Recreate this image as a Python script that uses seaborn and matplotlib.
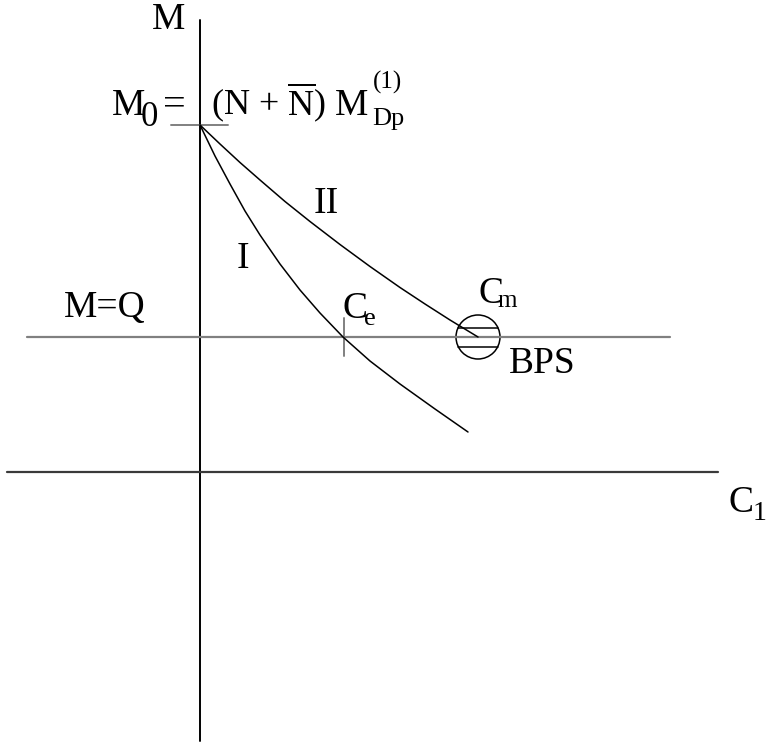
import matplotlib
matplotlib.use("Agg")
import matplotlib.pyplot as plt
from matplotlib.patches import Circle
import seaborn as sns
import pandas as pd

sns.set_theme(style="white")
plt.rcParams["font.family"] = ["Liberation Serif", "DejaVu Serif"]
plt.rcParams["mathtext.fontset"] = "custom"
plt.rcParams["mathtext.rm"] = "Liberation Serif"
plt.rcParams["mathtext.it"] = "Liberation Serif:italic"

# Curve I (elastic) and curve II (plastic) in the (C1, M) plane
curve_I_c1 = [0, 15, 30, 45, 60, 80, 100, 120, 143, 170, 200, 235, 268]
curve_I_m = [347, 316, 288, 261, 237, 208, 182, 159, 135, 111, 88, 63, 40]
curve_II_c1 = [0, 20, 40, 60, 85, 110, 140, 170, 200, 225, 250, 278]
curve_II_m = [347, 328, 309.5, 292, 270.5, 250.5, 227.5, 205.5, 184.5, 168, 152, 135]

# Reference levels
m0_level = 347          # M0 = (N + N̄) M_Dp^(1)
q_level = 135           # M = Q
ce_c1 = 144             # C_e: curve I meets M = Q
cm_c1 = 278             # C_m: curve II ends on M = Q (BPS)

df_I = pd.DataFrame({"C1": curve_I_c1, "M": curve_I_m})
df_II = pd.DataFrame({"C1": curve_II_c1, "M": curve_II_m})

fig = plt.figure(figsize=(7.71, 7.42), dpi=100)
ax = fig.add_axes([0, 0, 1, 1])
ax.set_xlim(-200, 571)
ax.set_ylim(-270, 472)
ax.axis("off")

# coordinate axes
ax.plot([0, 0], [-269, 452], color="black", lw=1.4)
ax.plot([-193, 518], [0, 0], color="#3a3a3a", lw=1.6)

# M = Q level and M0 tick
ax.plot([-173, 470], [q_level, q_level], color="#808080", lw=1.6)
ax.plot([-29, 28], [m0_level, m0_level], color="#808080", lw=1.4)
ax.plot([ce_c1, ce_c1], [q_level - 19, q_level + 19], color="#808080", lw=1.4)

sns.lineplot(data=df_I, x="C1", y="M", sort=False, estimator=None,
             color="black", lw=1.1, ax=ax)
sns.lineplot(data=df_II, x="C1", y="M", sort=False, estimator=None,
             color="black", lw=1.1, ax=ax)

# BPS marker: circle with two chords
r = 22
ax.add_patch(Circle((cm_c1, q_level), r, fill=False, ec="black", lw=1.1))
for dy in (9.5, -9.5):
    half = (r ** 2 - dy ** 2) ** 0.5
    ax.plot([cm_c1 - half, cm_c1 + half], [q_level + dy, q_level + dy],
            color="black", lw=1.1)

big = 27
kw = dict(ha="left", va="baseline", color="black")
ax.text(-48, 443, "M", fontsize=big, **kw)
ax.text(-88, 357, "M", fontsize=big, **kw)
ax.text(-59, 346, "0", fontsize=25, **kw)
ax.text(-37, 357, "=", fontsize=29, **kw)
ax.text(11, 357, r"(N + $\overline{\mathrm{N}}$)", fontsize=26, **kw)
ax.text(135, 357, "M", fontsize=big, **kw)
ax.text(172, 347, "Dp", fontsize=19, **kw)
ax.text(173, 383, "(1)", fontsize=18, **kw)
ax.text(114, 259, "II", fontsize=big, **kw)
ax.text(37, 204, "I", fontsize=big, **kw)
ax.text(-136, 155, "M=Q", fontsize=big, **kw)
ax.text(142, 154, "C", fontsize=big, **kw)
ax.text(164, 147, "e", fontsize=19, **kw)
ax.text(278, 169, "C", fontsize=big, **kw)
ax.text(297, 165, "m", fontsize=18, **kw)
ax.text(309, 99, "BPS", fontsize=big, **kw)
ax.text(528, -40, "C", fontsize=big, **kw)
ax.text(553, -48, "1", fontsize=20, **kw)

fig.savefig("out.png", dpi=100, facecolor="white")
